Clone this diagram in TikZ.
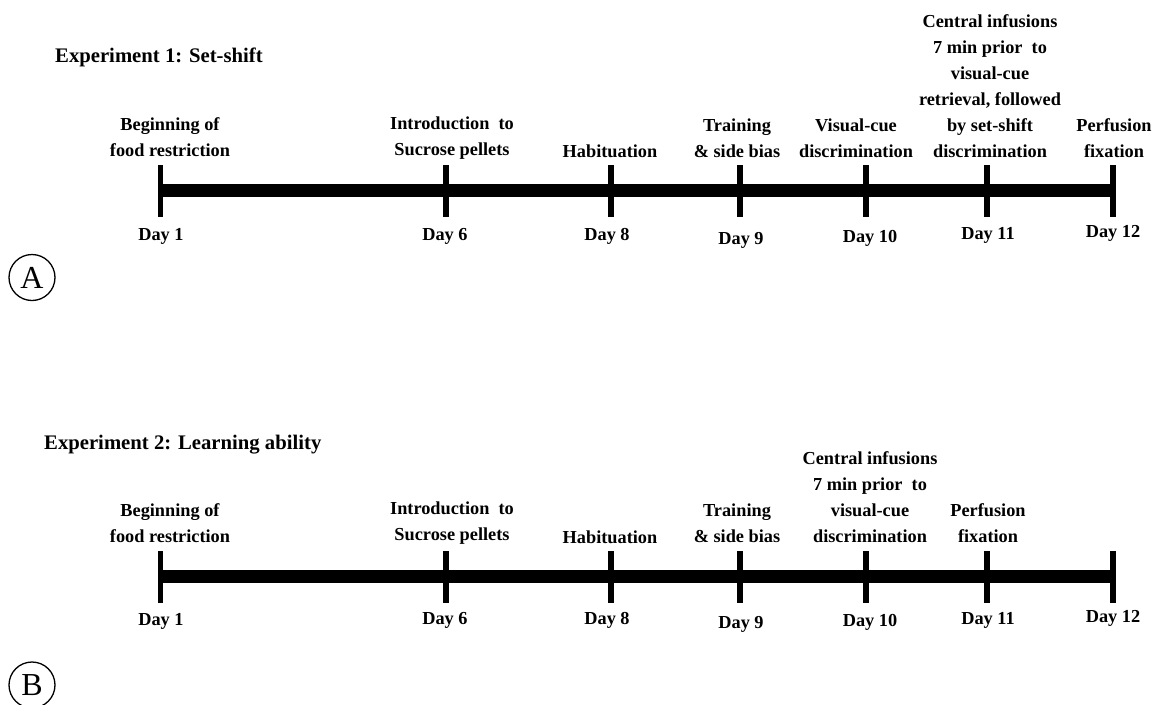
\documentclass[tikz,border=0pt]{standalone}
\usepackage{fontspec}
\setmainfont{Liberation Serif}
\begin{document}
\begin{tikzpicture}[x=1pt,y=-1pt,
  lbl/.style={font=\fontsize{18.3}{26}\selectfont\bfseries, align=center, inner sep=0pt},
  daylbl/.style={font=\fontsize{18.3}{26}\selectfont\bfseries, inner sep=0pt},
  ttl/.style={font=\fontsize{20.7}{26}\selectfont\bfseries, inner sep=0pt, anchor=west},
  bar/.style={line width=12.7pt},
  tickmark/.style={line width=5.7pt},
  panel/.style={circle, draw, line width=1.3pt, minimum size=46pt, inner sep=0pt, font=\fontsize{32}{32}\selectfont}]
\useasboundingbox (0,0) rectangle (1155,704);

% ---------- Panel A ----------
\node[ttl] (ta) at (55,57) {Experiment 1: Set-shift};
\foreach \n/\x in {1/160.5,6/446,8/611,9/740,10/866,11/987,12/1113}{
  \coordinate (A\n) at (\x,190.5);
}
\draw[bar] (A1) -- ([xshift=2pt]A12);
\foreach \n in {1,6,8,9,10,11,12}{
  \draw[tickmark] ([yshift=25.5pt]A\n) -- ([yshift=-26.5pt]A\n);
}
\node[lbl] (a1) at (170,137) {Beginning of\\food restriction};
\node[lbl] (a6) at (452,138) {Introduction~ to\\Sucrose pellets};
\node[lbl] (a8) at (610,151) {Habituation};
\node[lbl] (a9) at (737,138) {Training\\\& side bias};
\node[lbl] (a10) at (856,138) {Visual-cue\\discrimination};
\node[lbl] (a11) at (990,86) {Central infusions\\7 min prior~ to\\visual-cue\\retrieval, followed\\by set-shift\\discrimination};
\node[lbl] (a12) at (1114,138) {Perfusion\\fixation};
\node[daylbl] (ad1) at (161,236) {Day 1};
\node[daylbl] (ad6) at (445,236) {Day 6};
\node[daylbl] (ad8) at (607,236) {Day 8};
\node[daylbl] (ad9) at (741,240) {Day 9};
\node[daylbl] (ad10) at (870,238) {Day 10};
\node[daylbl] (ad11) at (988,235) {Day 11};
\node[daylbl] (ad12) at (1113,233) {Day 12};
\node[panel] (pa) at (32,277.5) {A};

% ---------- Panel B ----------
\node[ttl] (tb) at (44,445) {Experiment 2: Learning ability};
\foreach \n/\x in {1/160.5,6/446,8/611,9/740,10/866,11/987,12/1113}{
  \coordinate (B\n) at (\x,576.5);
}
\draw[bar] (B1) -- ([xshift=2pt]B12);
\foreach \n in {1,6,8,9,10,11,12}{
  \draw[tickmark] ([yshift=25.5pt]B\n) -- ([yshift=-26.5pt]B\n);
}
\node[lbl] (b1) at (170,523) {Beginning of\\food restriction};
\node[lbl] (b6) at (452,523) {Introduction~ to\\Sucrose pellets};
\node[lbl] (b8) at (610,537) {Habituation};
\node[lbl] (b9) at (737,523) {Training\\\& side bias};
\node[lbl] (b10) at (870,497) {Central infusions\\7 min prior~ to\\visual-cue\\discrimination};
\node[lbl] (b11) at (988,523) {Perfusion\\fixation};
\node[daylbl] (bd1) at (161,621) {Day 1};
\node[daylbl] (bd6) at (445,620) {Day 6};
\node[daylbl] (bd8) at (607,620) {Day 8};
\node[daylbl] (bd9) at (741,624) {Day 9};
\node[daylbl] (bd10) at (870,622) {Day 10};
\node[daylbl] (bd11) at (988,620) {Day 11};
\node[daylbl] (bd12) at (1113,618) {Day 12};
\node[panel] (pb) at (32,685) {B};
\end{tikzpicture}
\end{document}
